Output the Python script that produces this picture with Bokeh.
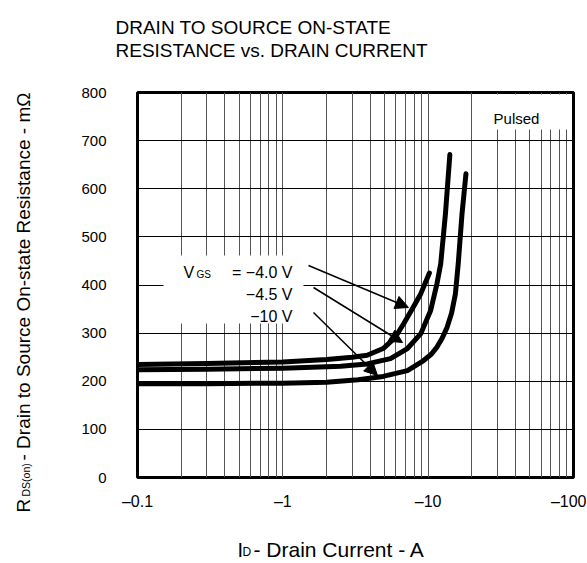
from bokeh.plotting import figure
from bokeh.models import FixedTicker, Label, Arrow, NormalHead, BoxAnnotation, Range1d
from bokeh.embed import file_html
from bokeh.resources import INLINE

# ---------------- data ----------------
x_ticks = [0.1, 1, 10, 100]
x_tick_labels = ["\u20130.1", "\u20131", "\u201310", "\u2013100"]
y_ticks = [0, 100, 200, 300, 400, 500, 600, 700, 800]

# VGS = -4.0 V
id_40 = [0.1, 0.3, 1, 2, 3, 3.8, 4.9, 5.9, 6.8, 7.8, 8.9, 10.2]
r_40 = [235, 237, 240, 245, 250, 254, 268, 290, 320, 351, 382, 425]
# VGS = -4.5 V
id_45 = [0.1, 0.3, 1, 2, 2.5, 3.8, 5.5, 7.2, 8.9, 10.4, 11.5, 12.2, 13.15, 14.1]
r_45 = [224, 225, 227, 230, 231, 236, 247, 268, 299, 347, 403, 444, 548, 671]
# VGS = -10 V
id_10 = [0.1, 0.3, 1, 2, 3.3, 4.9, 7.2, 9.3, 10.5, 11.5, 12.5, 13.5, 14.5, 15.4, 16.1, 17.1, 18.2]
r_10 = [195, 195, 196, 198, 203, 210, 222, 243, 256, 271, 290, 312, 342, 382, 444, 548, 631]

series_labels = ["= \u22124.0 V", "\u22124.5 V", "\u221210 V"]

FONT = "Liberation Sans"
W, H = 586, 562
FL, FT, FW, FH = 137, 92, 436, 385


def dx(px):
    return 10 ** (-1 + 3 * (px - FL) / FW)


def dy(py):
    return 800 * (FT + FH - py) / FH


p = figure(x_axis_type="log", x_range=Range1d(0.1, 100), y_range=Range1d(0, 800),
           frame_width=FW, frame_height=FH,
           min_border_left=FL, min_border_top=FT,
           min_border_right=W - FL - FW, min_border_bottom=H - FT - FH,
           output_backend="svg", toolbar_location=None)
p.background_fill_color = "white"
p.border_fill_color = "white"
p.outline_line_color = "black"
p.outline_line_width = 3

# axes
p.xaxis.ticker = FixedTicker(ticks=x_ticks)
p.xaxis.major_label_overrides = {t: s for t, s in zip(x_ticks, x_tick_labels)}
p.yaxis.ticker = FixedTicker(ticks=y_ticks)
for ax in (p.xaxis, p.yaxis):
    ax.axis_line_color = None
    ax.major_tick_line_color = None
    ax.minor_tick_line_color = None
    ax.major_tick_out = 0
    ax.major_tick_in = 0
    ax.minor_tick_out = 0
    ax.minor_tick_in = 0
    ax.major_label_text_font = FONT
    ax.major_label_text_color = "black"
p.xaxis.major_label_text_font_size = "16px"
p.yaxis.major_label_text_font_size = "15px"
p.xaxis.major_label_standoff = 15
p.yaxis.major_label_standoff = 31

# grids
minor = [m * 10 ** k for k in (-1, 0, 1) for m in range(2, 10)] + [1, 10]
p.xgrid.ticker = FixedTicker(ticks=minor)
p.xgrid.grid_line_color = "#555555"
p.xgrid.grid_line_width = 1
p.ygrid.ticker = FixedTicker(ticks=y_ticks[1:-1])
p.ygrid.grid_line_color = "black"
p.ygrid.grid_line_width = 1

# curves
for xs, ys in ((id_40, r_40), (id_45, r_45), (id_10, r_10)):
    p.line(xs, ys, line_width=5, line_color="black", line_join="round", line_cap="round")

# white boxes behind texts
p.add_layout(BoxAnnotation(left=dx(163), right=dx(303), top=dy(255), bottom=dy(323),
                           fill_color="white", fill_alpha=1, line_color=None))
p.add_layout(BoxAnnotation(left=dx(480), right=dx(571), top=dy(94), bottom=dy(129),
                           fill_color="white", fill_alpha=1, line_color=None))

# arrows
for (x0, y0, x1, y1) in ((308, 265, 408, 307), (313, 287, 402, 342), (313, 312, 377, 375)):
    p.add_layout(Arrow(x_start=dx(x0), y_start=dy(y0), x_end=dx(x1), y_end=dy(y1),
                       line_width=1.5, line_color="black",
                       end=NormalHead(size=13, fill_color="black", line_color="black", line_width=1)))


def lab(px, py, text, size, align="left", angle=0, place="center"):
    lbl = Label(x=dx(px), y=dy(py), text=text, text_font=FONT,
                text_font_size=f"{size}px", text_align=align,
                text_baseline="alphabetic", text_color="black",
                angle=angle, angle_units="deg")
    if place == "center":
        p.add_layout(lbl)
    else:
        p.add_layout(lbl, place)


# series labels
lab(183, 272, "V", 16)
lab(196, 274, "GS", 10)
lab(292, 272, series_labels[0], 16, "right")
lab(292, 294, series_labels[1], 16, "right")
lab(292, 316, series_labels[2], 16, "right")

# pulsed
lab(516, 118, "Pulsed", 15, "center")

# title
lab(115, 27, "DRAIN TO SOURCE ON-STATE", 19, place="above")
lab(115, 50, "RESISTANCE vs. DRAIN CURRENT", 19, place="above")

# x axis label
lab(237, 549, "I", 20, place="above")
lab(242, 551, "D", 12, place="below")
lab(253, 549, " - Drain Current - A", 21, place="below")

# y axis label (rotated)
lab(23, 512, "R", 19, angle=90, place="left")
lab(25.5, 496, "DS(on)", 10.5, angle=90, place="left")
lab(23, 460, "- Drain to Source On-state Resistance - m\u03a9", 19, angle=90, place="left")

open("out.html", "w").write(file_html(p, INLINE))
